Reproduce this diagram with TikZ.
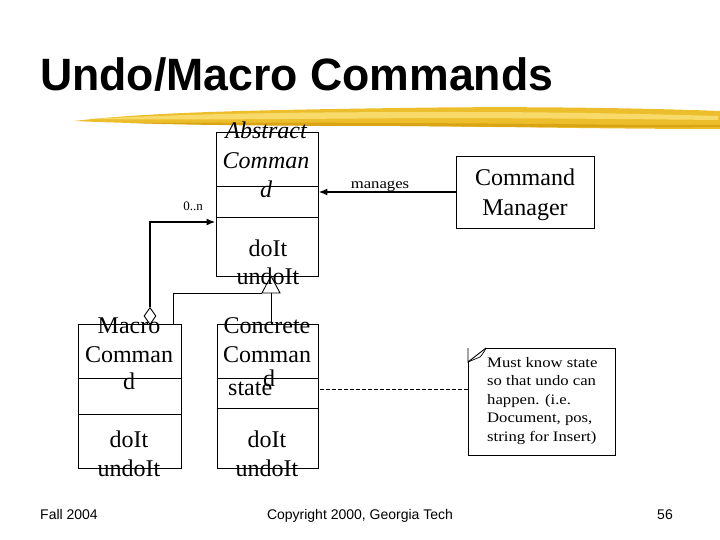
\documentclass[tikz,border=0pt]{standalone}
\usepackage{fontspec}
\setmainfont{Liberation Serif}
\setsansfont{Liberation Sans}
\usetikzlibrary{arrows.meta,shapes.geometric}
\definecolor{brushA}{HTML}{EDBE2C}
\definecolor{brushB}{HTML}{F7DA6A}
\definecolor{brushC}{HTML}{D9A514}
\tikzset{
  umlbox/.style={draw, line width=0.9pt, rectangle, inner sep=0pt},
  btxt/.style={anchor=base, inner sep=0pt, font=\fontsize{24}{24}\selectfont},
  ntxt/.style={anchor=base west, inner sep=0pt, font=\fontsize{14.5}{14.5}\selectfont},
  foot/.style={anchor=base, inner sep=0pt, font=\sffamily\fontsize{14}{14}\selectfont},
  assoc/.style={line width=2pt, -{Latex[length=9pt,width=7pt]}},
  thinline/.style={line width=0.9pt}
}
\begin{document}
\begin{tikzpicture}[x=1pt,y=-1pt]
\useasboundingbox (0,0) rectangle (720,540);
% title
\node[anchor=base west, inner sep=0pt, font=\sffamily\bfseries\fontsize{44}{44}\selectfont] (title) at (40,91) {\scalebox{1.014}[1.03]{Undo/Macro Commands}};
% brush stroke
\fill[brushA] (74,121) .. controls (150,112) and (260,110) .. (400,108)
  .. controls (520,106) and (640,108) .. (720,111) -- (720,129)
  .. controls (620,129) and (520,127) .. (400,126)
  .. controls (280,125) and (160,125) .. (74,121) -- cycle;
\fill[brushB] (90,119) .. controls (200,113) and (320,112) .. (460,112)
  .. controls (560,112) and (650,114) .. (718,116) -- (718,120)
  .. controls (620,119) and (520,118) .. (420,118)
  .. controls (300,119) and (180,120) .. (90,119) -- cycle;
\fill[brushC] (130,123) .. controls (260,122) and (420,123) .. (560,124)
  .. controls (620,125) and (680,125) .. (720,125) -- (720,127)
  .. controls (640,128) and (520,127) .. (400,126)
  .. controls (280,126) and (180,125) .. (130,123) -- cycle;
% boxes
\node[umlbox, minimum width=102, minimum height=144] (abs) at (267,204) {};
\node[umlbox, minimum width=103, minimum height=144] (mac) at (129.5,396) {};
\node[umlbox, minimum width=101, minimum height=144] (con) at (267.5,396) {};
\node[umlbox, minimum width=138, minimum height=72] (mgr) at (525,192) {};
% compartments
\draw[thinline] (abs.west |- 0,186) -- (abs.east |- 0,186);
\draw[thinline] (abs.west |- 0,217) -- (abs.east |- 0,217);
\draw[thinline] (mac.west |- 0,378) -- (mac.east |- 0,378);
\draw[thinline] (mac.west |- 0,414) -- (mac.east |- 0,414);
\draw[thinline] (con.west |- 0,378) -- (con.east |- 0,378);
\draw[thinline] (con.west |- 0,408) -- (con.east |- 0,408);
% box texts
\node[btxt] (a1) at (266,139) {\itshape Abstract};
\node[btxt] (a2) at (266,169) {\itshape Comman};
\node[btxt] (a3) at (266,197) {\itshape d};
\node[btxt] (a4) at (268,256) {doIt};
\node[btxt] (a5) at (268,284) {undoIt};
\node[btxt] (m1) at (129,333) {Macro};
\node[btxt] (m2) at (129,362) {Comman};
\node[btxt] (m3) at (129,389) {d};
\node[btxt] (m4) at (129,447) {doIt};
\node[btxt] (m5) at (129,476) {undoIt};
\node[btxt] (c1) at (267,333) {Concrete};
\node[btxt] (c2) at (267,362) {Comman};
\node[btxt] (c3) at (269,386) {d};
\node[btxt, anchor=base west] (c6) at (228,395) {state};
\node[btxt] (c4) at (267,447) {doIt};
\node[btxt] (c5) at (267,476) {undoIt};
\node[anchor=base, inner sep=0pt, font=\fontsize{24}{24}\selectfont] (g1) at (525,186) {Command};
\node[anchor=base, inner sep=0pt, font=\fontsize{24}{24}\selectfont] (g2) at (525,215) {Manager};
% note
\node[umlbox, minimum width=147, minimum height=107] (note) at (541.5,401.5) {};
\fill[white] (468,348) -- (486,348) -- (468,362) -- cycle;
\draw[thinline] (486,348) -- (468,362) -- (468,348) ;
\draw[line width=0.7pt] (468,362) -- (480,357) .. controls (483,354) and (485,350) .. (486,348);
\node[ntxt] (n1) at (487,367) {\scalebox{1.15}[1]{Must know state}};
\node[ntxt] (n2) at (487,385.5) {\scalebox{1.15}[1]{so that undo can}};
\node[ntxt] (n3) at (487,404) {\scalebox{1.15}[1]{happen. (i.e.}};
\node[ntxt] (n4) at (487,422.5) {\scalebox{1.15}[1]{Document, pos,}};
\node[ntxt] (n5) at (487,441) {\scalebox{1.15}[1]{string for Insert)}};
% manages association
\draw[assoc] (mgr.west |- 0,192) -- (abs.east |- 0,192);
\node[anchor=base, inner sep=0pt, font=\fontsize{14.5}{14.5}\selectfont] (lm) at (380,189) {\scalebox{1.15}[1]{manages}};
% aggregation 0..n
\node[draw, thinline, diamond, fill=white, minimum width=12, minimum height=17, inner sep=0pt] (dia) at (150,316) {};
\draw[assoc] (dia.north) |- (abs.west |- 0,222);
\node[anchor=base, inner sep=0pt, font=\fontsize{13}{13}\selectfont] (lz) at (193,211) {0..n};
% generalization
\coordinate (tb) at (271,293);
\coordinate (tl) at (262,293);
\coordinate (tr) at (280,293);
\coordinate (tt) at (271,276);
\draw[thinline] (tl) -- (tt) -- (tr) -- cycle;
\draw[thinline] (con.north -| tb) -- (tb);
\draw[thinline] (mac.north -| 173,0) |- (tl);
% dashed note link
\draw[thinline, dash pattern=on 4pt off 2pt] (320,389) -- (note.west |- 0,389);
% footer
\node[foot, anchor=base west] (f1) at (40,519) {Fall 2004};
\node[foot] (f2) at (360,519) {Copyright 2000, Georgia Tech};
\node[foot, anchor=base east] (f3) at (673,519) {56};
\end{tikzpicture}
\end{document}
